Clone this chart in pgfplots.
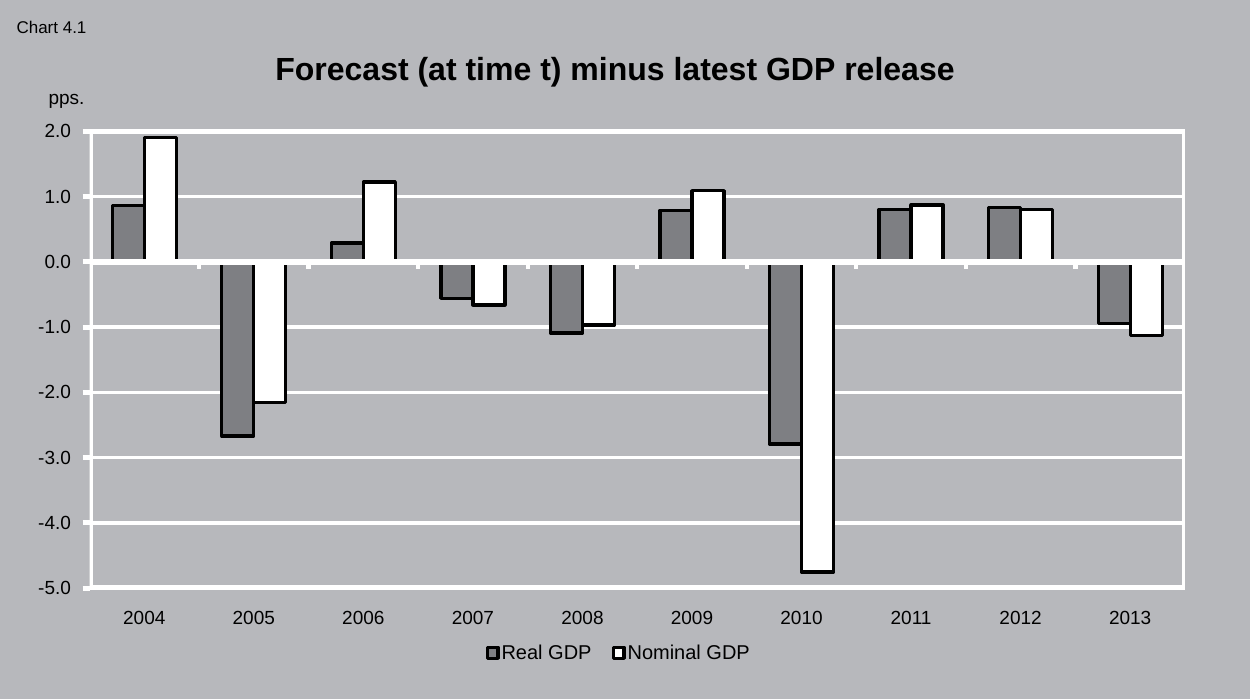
\documentclass[border=0pt]{standalone}
\usepackage{pgfplots}
\pgfplotsset{compat=1.18}
\usepackage{fontspec}
\setmainfont{Liberation Sans}

\definecolor{chartbg}{RGB}{183,184,188}
\definecolor{realgdp}{RGB}{126,127,131}

% Forecast errors, percentage points
\pgfplotstableread{
x  real   nominal
0   0.86   1.90
1  -2.67  -2.15
2   0.29   1.22
3  -0.56  -0.66
4  -1.09  -0.97
5   0.79   1.09
6  -2.79  -4.75
7   0.80   0.87
8   0.83   0.80
9  -0.94  -1.13
}\gdpdata

\pgfplotsset{
  sqlegend/.style={legend image code/.code={%
    \draw[##1, draw=black, line width=3.5pt, line join=round]
      (0pt,-5.5pt) rectangle (10.5pt,5.5pt);}},
}

\begin{document}
\begin{tikzpicture}[x=1pt,y=1pt]
\fill[chartbg] (0,0) rectangle (1250,699);
\node[anchor=base west, font=\fontsize{17}{20}\selectfont] at (13,665) {Chart 4.1};
\node[anchor=base west, font=\fontsize{19}{22}\selectfont] at (45,594) {pps.};
\node[anchor=base, font=\fontsize{32}{36}\selectfont\bfseries] at (615,618)
  {Forecast (at time t) minus latest GDP release};

\begin{axis}[
  at={(89.5pt,110.7pt)}, anchor=south west,
  scale only axis, width=1095.5pt, height=457.1pt,
  xmin=-0.5, xmax=9.5, ymin=-5, ymax=2,
  axis line style={draw=none},
  ytick={-5,-4,...,2},
  yticklabels={-5.0,-4.0,-3.0,-2.0,-1.0,0.0,1.0,2.0},
  ytick pos=left,
  ymajorgrids, major grid style={white, line width=3.5pt},
  ytick style={white, line width=5pt},
  tick align=outside, major tick length=7pt,
  xtick={0,...,9},
  xticklabels={2004,2005,2006,2007,2008,2009,2010,2011,2012,2013},
  xtick style={draw=none},
  tick label style={font=\fontsize{19}{22}\selectfont, text=black},
  xticklabel style={yshift=-12pt},
  yticklabel style={xshift=-8pt},
  bar width=0.292,
  legend style={at={(0.4831,-0.1411)}, anchor=center, draw=none, fill=none,
    legend columns=2, font=\fontsize{20}{24}\selectfont,
    /tikz/every even column/.append style={column sep=18pt}},
  legend cell align=left,
]
\addplot[ybar, bar shift=-0.146, fill=realgdp, draw=black, line width=3.3pt,
  line join=round, sqlegend] table[x=x, y=real] {\gdpdata};
\addlegendentry{Real GDP}
\addplot[ybar, bar shift=0.146, fill=white, draw=black, line width=3.3pt,
  line join=round, sqlegend] table[x=x, y=nominal] {\gdpdata};
\addlegendentry{Nominal GDP}

% plot-area frame, horizontal axis at zero and its category ticks
\draw[white, line width=6.5pt] (rel axis cs:0,0) rectangle (rel axis cs:1,1);
\draw[white, line width=6.3pt] (axis cs:-0.5,0) -- (axis cs:9.5,0);
\pgfplotsinvokeforeach{0.5,1.5,...,8.5}{
  \draw[white, line width=4.3pt] (axis cs:#1,0) -- ++(0pt,-7.2pt);
}
\end{axis}
\end{tikzpicture}
\end{document}
